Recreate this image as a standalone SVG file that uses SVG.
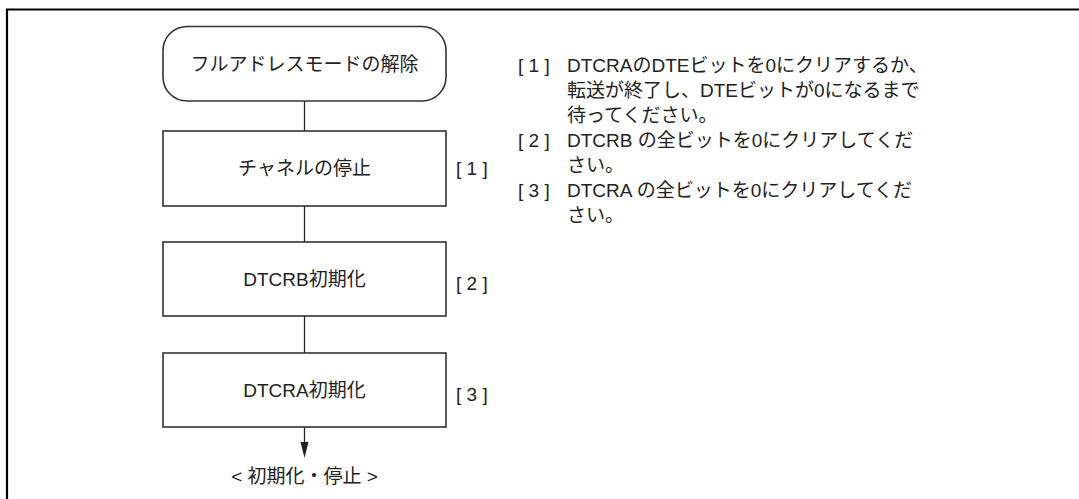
<svg xmlns="http://www.w3.org/2000/svg" width="1079" height="499" viewBox="0 0 1079 499">
<style>
text{font-family:"Liberation Sans","Noto Sans CJK JP",sans-serif;font-size:19px;fill:#222}
.c{text-anchor:middle}
.box{fill:#fff;stroke:#333;stroke-width:1.6}
.ln{stroke:#222;stroke-width:1.3;fill:none}
.frame{stroke:#000;stroke-width:2.2;fill:none}
</style>
<defs>
<marker id="ah" viewBox="0 0 8 16" refX="4" refY="16" markerWidth="8" markerHeight="16" markerUnits="userSpaceOnUse" orient="auto-start-reverse">
<path d="M0,0 L8,0 L4,16 Z" fill="#222"/>
</marker>
</defs>
<path class="frame" d="M7,499 V9.5 H1079"/>
<g id="connectors">
<line class="ln" x1="304.5" y1="101" x2="304.5" y2="131"/>
<line class="ln" x1="304.5" y1="206" x2="304.5" y2="242"/>
<line class="ln" x1="304.5" y1="316" x2="304.5" y2="353"/>
<line class="ln" x1="304.5" y1="427" x2="304.5" y2="442"/>
<path d="M300.5,442 L308.5,442 L304.5,458 Z" fill="#222"/>
</g>
<g id="start">
<rect class="box" x="163" y="26.5" width="283" height="74.5" rx="24" ry="24"/>
<text class="c" x="304.5" y="70.5">フルアドレスモードの解除</text>
</g>
<g id="step1">
<rect class="box" x="163" y="131" width="283" height="75"/>
<text class="c" x="304.5" y="175">チャネルの停止</text>
<text x="456" y="175">[ 1 ]</text>
</g>
<g id="step2">
<rect class="box" x="163" y="242" width="283" height="74"/>
<text class="c" x="304.5" y="286">DTCRB初期化</text>
<text x="456" y="290">[ 2 ]</text>
</g>
<g id="step3">
<rect class="box" x="163" y="353" width="283" height="74"/>
<text class="c" x="304.5" y="397">DTCRA初期化</text>
<text x="456" y="401">[ 3 ]</text>
</g>
<g id="end">
<text class="c" x="304.5" y="483">&lt; 初期化・停止 &gt;</text>
</g>
<g id="notes">
<text x="518" y="72">[ 1 ]</text>
<text x="567" y="72">DTCRAのDTEビットを0にクリアするか、</text>
<text x="567" y="97">転送が終了し、DTEビットが0になるまで</text>
<text x="567" y="122">待ってください。</text>
<text x="518" y="147">[ 2 ]</text>
<text x="567" y="147">DTCRB の全ビットを0にクリアしてくだ</text>
<text x="567" y="172">さい。</text>
<text x="518" y="197">[ 3 ]</text>
<text x="567" y="197">DTCRA の全ビットを0にクリアしてくだ</text>
<text x="567" y="222">さい。</text>
</g>
</svg>
